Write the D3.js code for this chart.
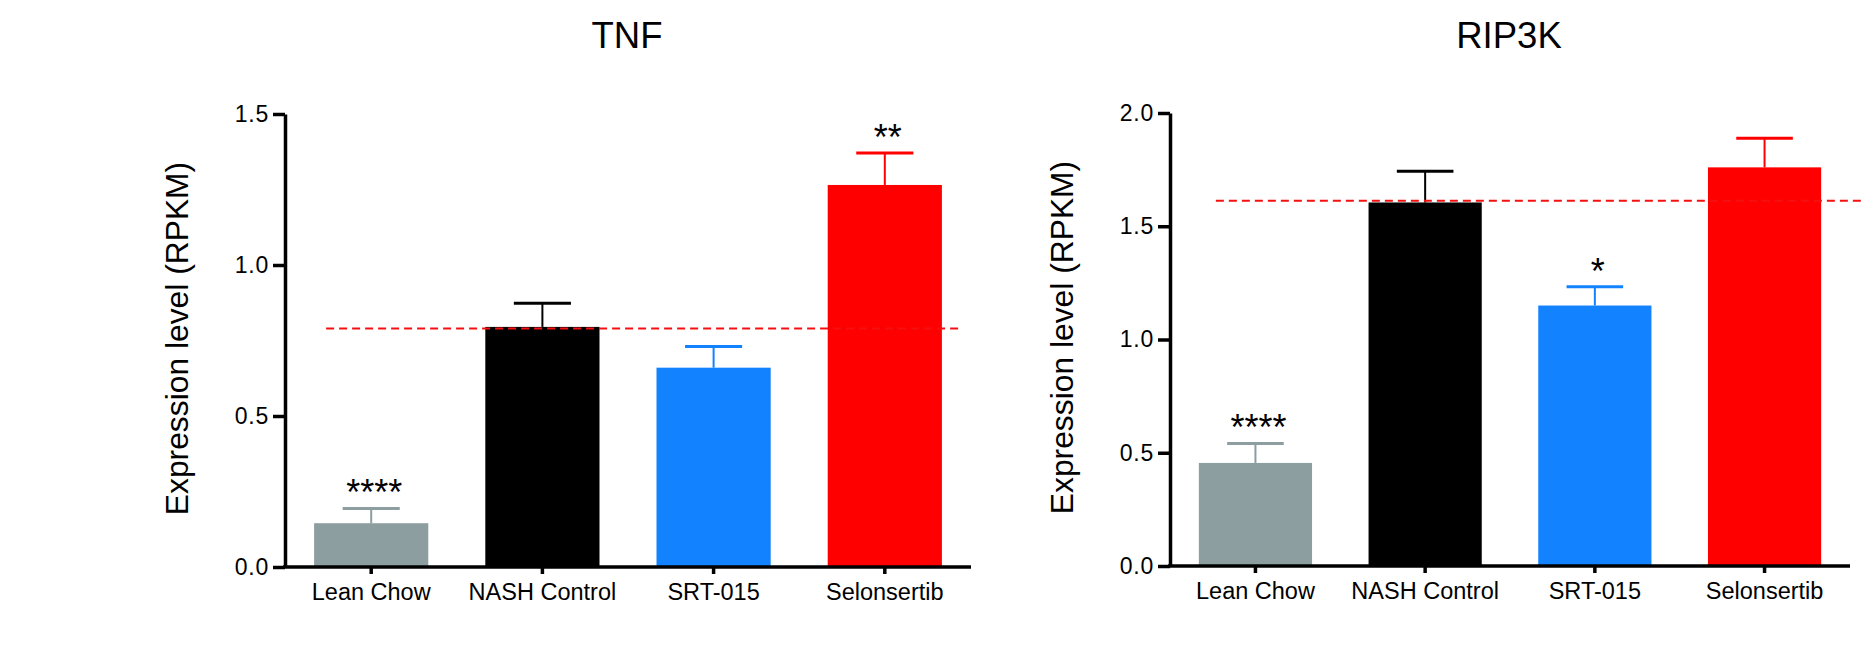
<!DOCTYPE html>
<html>
<head>
<meta charset="utf-8">
<script src="https://cdn.jsdelivr.net/npm/d3@7"></script>
<style>
  html, body { margin: 0; padding: 0; background: #fff; }
  svg { display: block; }
  text { font-family: "Liberation Sans", Arial, Helvetica, sans-serif; fill: #000; }
</style>
</head>
<body>
<svg id="fig" width="1863" height="652"></svg>
<script>
// Groups shared by both panels
const categories = ["Lean Chow", "NASH Control", "SRT-015", "Selonsertib"];
const barColors = ["#8c9ea0", "#000000", "#1382fe", "#fe0000"];

// TNF panel: mean, SEM, significance marks, reference level
const tnfMean = [0.145, 0.795, 0.660, 1.265];
const tnfSem = [0.049, 0.078, 0.070, 0.106];
const tnfStars = ["****", "", "", "**"];
const tnfRef = 0.79;
const tnfTicks = [0.0, 0.5, 1.0, 1.5];

// RIP3K panel
const rip3kMean = [0.455, 1.605, 1.150, 1.760];
const rip3kSem = [0.086, 0.138, 0.083, 0.128];
const rip3kStars = ["****", "", "*", ""];
const rip3kRef = 1.613;
const rip3kTicks = [0.0, 0.5, 1.0, 1.5, 2.0];

const svg = d3.select("#fig");
svg.append("rect").attr("width", 1863).attr("height", 652).attr("fill", "#fff");

function panel(opt) {
  const g = svg.append("g");
  const x = d3.scaleBand().domain(categories)
    .range([opt.left, opt.right]).paddingInner(0.333).paddingOuter(0.17);
  const y = d3.scaleLinear().domain([0, opt.yMax]).range([opt.bottom, opt.top]);
  const bw = x.bandwidth();
  const rows = categories.map((c, i) => ({
    c, mean: opt.mean[i], sem: opt.sem[i], star: opt.stars[i], color: barColors[i]
  }));

  // bars
  g.selectAll("rect.bar").data(rows).join("rect")
    .attr("class", "bar")
    .attr("x", d => x(d.c))
    .attr("width", bw)
    .attr("y", d => y(d.mean))
    .attr("height", d => y(0) - y(d.mean))
    .attr("fill", d => d.color);

  // upper error bars
  g.selectAll("line.err").data(rows).join("line")
    .attr("class", "err")
    .attr("x1", d => x(d.c) + bw / 2).attr("x2", d => x(d.c) + bw / 2)
    .attr("y1", d => y(d.mean)).attr("y2", d => y(d.mean + d.sem))
    .attr("stroke", d => d.color).attr("stroke-width", 2);
  g.selectAll("line.cap").data(rows).join("line")
    .attr("class", "cap")
    .attr("x1", d => x(d.c) + bw / 4).attr("x2", d => x(d.c) + bw * 3 / 4)
    .attr("y1", d => y(d.mean + d.sem)).attr("y2", d => y(d.mean + d.sem))
    .attr("stroke", d => d.color).attr("stroke-width", 3);

  // significance marks
  g.selectAll("text.star").data(rows.filter(d => d.star)).join("text")
    .attr("class", "star")
    .attr("x", d => x(d.c) + bw / 2 + 3)
    .attr("y", d => y(d.mean + d.sem) - 3)
    .attr("text-anchor", "middle")
    .attr("font-size", 36)
    .text(d => d.star);

  // dashed reference level
  g.append("line")
    .attr("x1", x(categories[0]) + opt.refStart)
    .attr("x2", x(categories[3]) + bw + opt.refEnd)
    .attr("y1", y(opt.ref)).attr("y2", y(opt.ref))
    .attr("stroke", "#f41010").attr("stroke-width", 2)
    .attr("stroke-dasharray", "8,5");

  // y axis
  const ya = g.append("g").attr("transform", `translate(${opt.left},0)`)
    .call(d3.axisLeft(y).tickValues(opt.ticks).tickFormat(d3.format(".1f"))
      .tickSizeInner(12).tickSizeOuter(0).tickPadding(4));
  ya.select(".domain").attr("stroke-width", 3.5).attr("stroke", "#000");
  ya.selectAll(".tick line").attr("stroke-width", 3.5).attr("stroke", "#000");
  ya.selectAll(".tick text").attr("font-size", 23).attr("letter-spacing", 0.8)
    .attr("font-family", null).attr("fill", "#000");

  // x axis
  const xa = g.append("g").attr("transform", `translate(0,${opt.bottom})`)
    .call(d3.axisBottom(x).tickSizeInner(7).tickSizeOuter(0).tickPadding(9));
  xa.select(".domain").attr("stroke-width", 3.5).attr("stroke", "#000")
    .attr("d", `M${opt.left - 2},0H${opt.right}`);
  xa.selectAll(".tick line").attr("stroke-width", 3.5).attr("stroke", "#000");
  xa.selectAll(".tick text").attr("font-size", 23.5)
    .attr("font-family", null).attr("fill", "#000");

  // axis title
  g.append("text")
    .attr("transform", `translate(${opt.left - 97},${(opt.top + opt.bottom) / 2 - 2}) rotate(-90)`)
    .attr("text-anchor", "middle")
    .attr("font-size", 31.8)
    .text("Expression level (RPKM)");

  // panel title
  g.append("text")
    .attr("x", (opt.left + opt.right) / 2 - 1)
    .attr("y", 48)
    .attr("text-anchor", "middle")
    .attr("font-size", 36.5)
    .text(opt.title);
}

panel({
  title: "TNF", left: 285, right: 971, top: 114, bottom: 567,
  yMax: 1.5, ticks: tnfTicks, mean: tnfMean, sem: tnfSem, stars: tnfStars,
  ref: tnfRef, refStart: 12, refEnd: 20
});

panel({
  title: "RIP3K", left: 1170, right: 1850, top: 113, bottom: 566,
  yMax: 2.0, ticks: rip3kTicks, mean: rip3kMean, sem: rip3kSem, stars: rip3kStars,
  ref: rip3kRef, refStart: 17, refEnd: 60
});
</script>
</body>
</html>
